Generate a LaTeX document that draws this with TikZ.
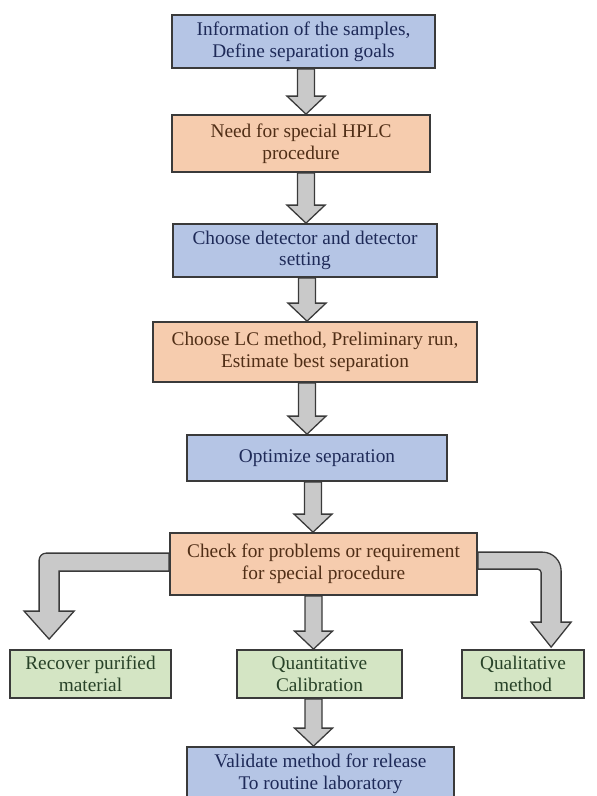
\documentclass[tikz,border=0pt]{standalone}
\usepackage{fontspec}
\setmainfont{Liberation Serif}
\usetikzlibrary{calc}

\definecolor{boxblue}{RGB}{181,197,229}
\definecolor{boxorange}{RGB}{246,204,174}
\definecolor{boxgreen}{RGB}{212,229,196}
\definecolor{txtblue}{RGB}{30,42,88}
\definecolor{txtorange}{RGB}{80,46,22}
\definecolor{txtgreen}{RGB}{40,66,40}
\definecolor{edgegray}{RGB}{58,58,58}
\definecolor{arrowgray}{RGB}{201,201,201}

% fleche pleine verticale : [decalage en x]{depart}{arrivee}
\newcommand{\blockdown}[3][0]{%
  \draw[barrow] ($(#2.south)+(#1-8.5,0)$)
    -- ($(#3.north -| #2.south)+(#1-8.5,-18)$)
    -- ($(#3.north -| #2.south)+(#1-19,-18)$)
    -- ($(#3.north -| #2.south)+(#1,0)$)
    -- ($(#3.north -| #2.south)+(#1+19,-18)$)
    -- ($(#3.north -| #2.south)+(#1+8.5,-18)$)
    -- ($(#2.south)+(#1+8.5,0)$) -- cycle;}

\begin{document}
\begin{tikzpicture}[x=0.03cm,y=-0.03cm,
    box/.style={draw=edgegray, line width=1.5pt, align=center, inner sep=0pt,
      font=\fontsize{16.5}{18.5}\selectfont},
    bluebox/.style={box, fill=boxblue, text=txtblue},
    orangebox/.style={box, fill=boxorange, text=txtorange},
    greenbox/.style={box, fill=boxgreen, text=txtgreen},
    boxsize/.style 2 args={minimum width=#1*0.03cm, minimum height=#2*0.03cm},
    barrow/.style={fill=arrowgray, draw=edgegray, line width=1.1pt, line join=miter}]
    \useasboundingbox (0,0) rectangle (597,796);
    % Colonne principale
    \node[bluebox, boxsize={263}{53}] (info) at (303.5,41.5)
        {Information of the samples,\\Define separation goals};
    \node[orangebox, boxsize={258}{57}] (need) at (301,143.5)
        {Need for special HPLC\\procedure};
    \node[bluebox, boxsize={264}{53}] (detector) at (305,250.5)
        {Choose detector and detector\\setting};
    \node[orangebox, boxsize={324}{60}] (lcmethod) at (315,352)
        {Choose LC method, Preliminary run,\\Estimate best separation};
    \node[bluebox, boxsize={260}{46}] (optimize) at (317,458)
        {Optimize separation};
    \node[orangebox, boxsize={307}{62}] (check) at (323.5,564)
        {Check for problems or requirement\\for special procedure};
    % Branches
    \node[greenbox, boxsize={161}{48}] (recover) at (90.5,674)
        {Recover purified\\material};
    \node[greenbox, boxsize={165}{48}] (quanti) at (319.5,674)
        {Quantitative\\Calibration};
    \node[greenbox, boxsize={122}{48}] (quali) at (523,674)
        {Qualitative\\method};
    \node[bluebox, boxsize={267}{53}] (validate) at (320.5,773.5)
        {Validate method for release\\To routine laboratory};
    % Fleches verticales
    \blockdown[2.5]{info}{need}
    \blockdown[5]{need}{detector}
    \blockdown[2]{detector}{lcmethod}
    \blockdown[-8]{lcmethod}{optimize}
    \blockdown[-4]{optimize}{check}
    \blockdown[-10]{check}{quanti}
    \blockdown[-6]{quanti}{validate}
    % Fleche coudee a gauche
    \coordinate (ltop) at ($(check.north west)+(0,21)$);
    \coordinate (lbot) at ($(check.north west)+(0,39)$);
    \coordinate (ltip) at ($(recover.north west)+(40,-10)$);
    \draw[barrow] (ltop) [rounded corners=6] -- ($(ltop -| ltip)+(-10,0)$)
        [sharp corners] -- ($(ltip)+(-10,-28)$) -- ($(ltip)+(-25,-28)$) -- (ltip)
        -- ($(ltip)+(25,-28)$) -- ($(ltip)+(10,-28)$)
        -- ($(lbot -| ltip)+(10,0)$) -- (lbot) -- cycle;
    % Fleche coudee a droite
    \coordinate (rtop) at ($(check.north east)+(0,20)$);
    \coordinate (rbot) at ($(check.north east)+(0,37)$);
    \coordinate (rtip) at ($(quali.north west)+(90,-2)$);
    \draw[barrow] (rtop) [rounded corners=16] -- ($(rtop -| rtip)+(10,0)$)
        [sharp corners] -- ($(rtip)+(10,-25)$) -- ($(rtip)+(20,-25)$) -- (rtip)
        -- ($(rtip)+(-20,-25)$) -- ($(rtip)+(-10,-25)$)
        [rounded corners=3] -- ($(rbot -| rtip)+(-10,0)$) [sharp corners] -- (rbot) -- cycle;
\end{tikzpicture}
\end{document}
